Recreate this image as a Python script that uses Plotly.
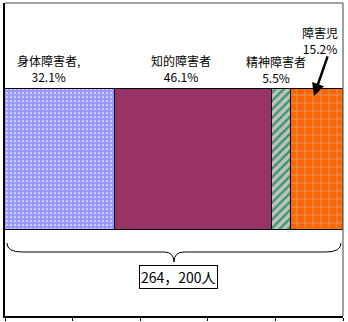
import plotly.graph_objects as go

categories = ["身体障害者", "知的障害者", "精神障害者", "障害児"]
label_texts = ["身体障害者,", "知的障害者", "精神障害者", "障害児"]
shares = [32.1, 46.1, 5.5, 15.2]
total_persons = "264，200人"
tick_values = [0, 20, 40, 60, 80, 100]

# 100% stacked bar (like the original spreadsheet chart)
share_sum = sum(shares)
norm = [s / share_sum * 100 for s in shares]

colors = ["#9999FF", "#993366", "#C0C0C0", "#FF6600"]
pat_shapes = [".", "", "/", "+"]
pat_fg = ["#FFFFFF", "#993366", "#339966", "#C0C0C0"]
pat_size = [4, 8, 6, 8]
pat_sol = [0.15, 0.3, 0.4, 0.12]

FONT = "Noto Sans CJK JP"

fig = go.Figure()
for i, c in enumerate(categories):
    fig.add_trace(go.Bar(
        x=[norm[i]], y=[0.5], orientation="h", width=0.453, name=c,
        marker=dict(color=colors[i], line=dict(color="black", width=1),
                    pattern=dict(shape=pat_shapes[i], fgcolor=pat_fg[i],
                                 bgcolor=colors[i], size=pat_size[i],
                                 solidity=pat_sol[i], fillmode="replace")),
        hoverinfo="skip", showlegend=False))

label_pos = [(13.0, 0.792), (52.1, 0.792), (80.2, 0.786), (93.2, 0.879)]
for i, (lx, ly) in enumerate(label_pos):
    fig.add_annotation(x=lx, y=ly, xref="x", yref="y", showarrow=False,
                       text=f"{label_texts[i]}<br>{shares[i]}%",
                       font=dict(family=FONT, size=12, color="black"))

# arrow to 障害児
fig.add_annotation(x=91.4, y=0.703, ax=95.6, ay=0.834, xref="x", yref="y",
                   axref="x", ayref="y", text="", showarrow=True,
                   arrowhead=2, arrowsize=1, arrowwidth=2.5, arrowcolor="black")

# brace
fig.add_shape(type="path", xref="x", yref="y",
              path="M 0.6,0.233 Q 0.6,0.2045 5,0.2045 L 47,0.2045 Q 50,0.2045 50,0.1725 "
                   "Q 50,0.2045 53,0.2045 L 95,0.2045 Q 99.4,0.2045 99.4,0.233",
              line=dict(color="black", width=1))

fig.add_annotation(x=51.2, y=0.125, xref="x", yref="y", showarrow=False,
                   text=total_persons, bordercolor="black", borderwidth=1,
                   borderpad=1, bgcolor="white",
                   font=dict(family=FONT, size=14, color="black"))

# frame (top/right grey)
fig.add_shape(type="line", xref="paper", yref="paper", x0=0, x1=1, y0=1, y1=1,
              line=dict(color="#808080", width=1.5))
fig.add_shape(type="line", xref="paper", yref="paper", x0=1, x1=1, y0=0, y1=1,
              line=dict(color="#808080", width=1.5))

fig.update_layout(
    width=348, height=322, barmode="stack", bargap=0,
    margin=dict(l=5, r=5, t=3, b=6),
    paper_bgcolor="white", plot_bgcolor="white",
    xaxis=dict(range=[0, 100], tickvals=tick_values, showticklabels=False,
               ticks="outside", ticklen=3, tickcolor="black", showgrid=False,
               zeroline=False, showline=True, linecolor="black", linewidth=1.5,
               fixedrange=True),
    yaxis=dict(range=[0, 1], showticklabels=False, showgrid=False, zeroline=False,
               showline=True, linecolor="black", linewidth=2, ticks="",
               fixedrange=True),
)

fig.write_html("out.html", config={"displayModeBar": False})
